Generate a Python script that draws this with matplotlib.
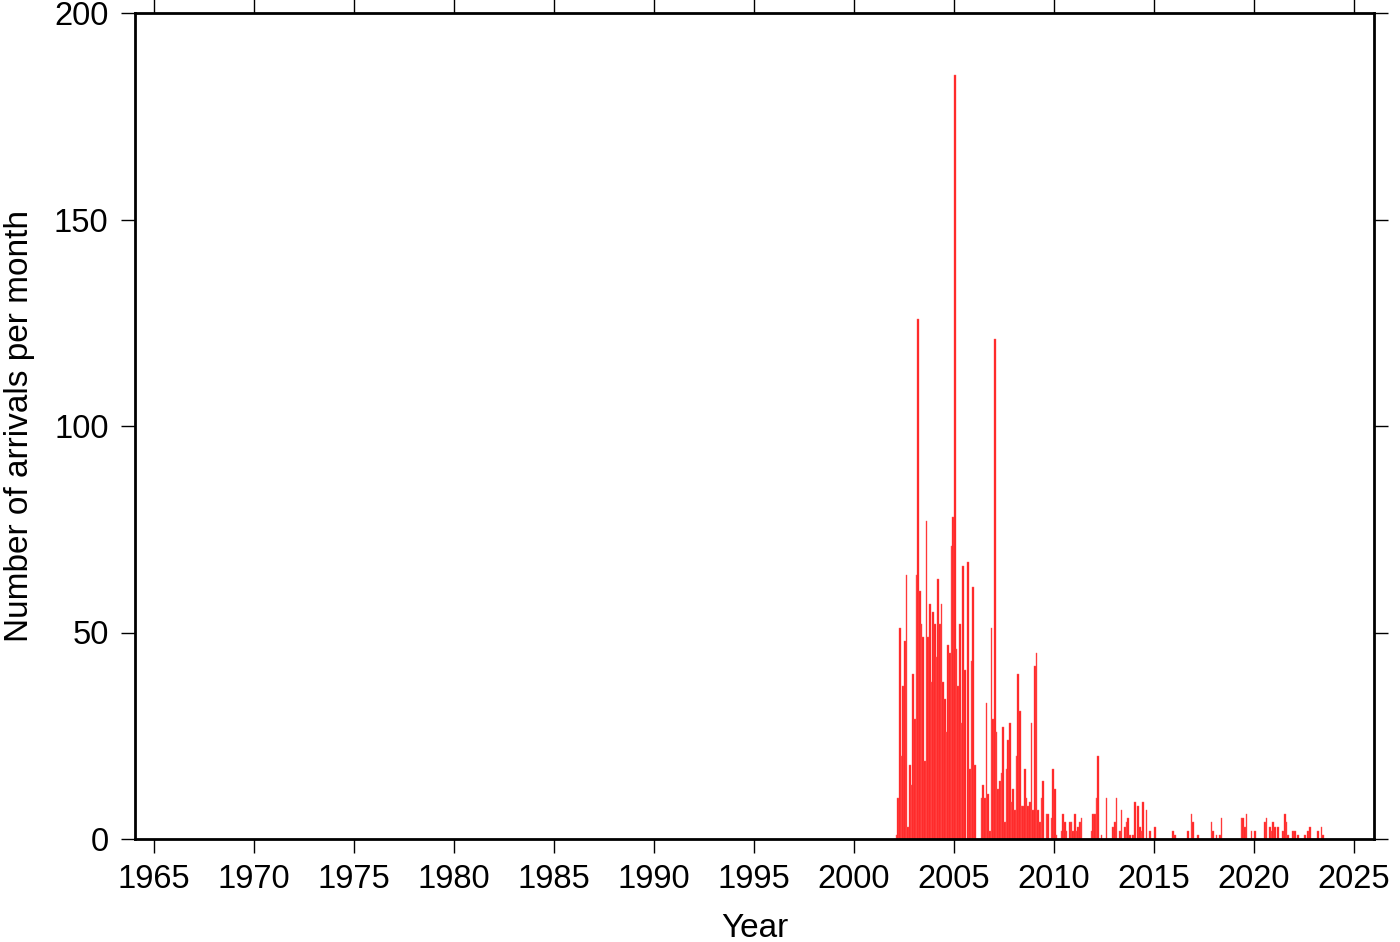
import matplotlib
matplotlib.use("Agg")
import matplotlib.pyplot as plt
import numpy as np

plt.rcParams['font.family'] = ['Liberation Sans', 'DejaVu Sans']

# monthly arrival counts, one row per year, starting January 2002
start_year = 2002
counts = [
    [0, 1, 10, 51, 20, 37, 48, 64, 3, 18, 13, 40],        # 2002
    [29, 64, 126, 60, 52, 49, 19, 77, 49, 57, 38, 55],    # 2003
    [52, 44, 63, 52, 57, 38, 34, 26, 47, 45, 71, 78],     # 2004
    [185, 46, 37, 52, 28, 66, 41, 0, 67, 17, 43, 61],     # 2005
    [18, 0, 0, 0, 10, 13, 10, 33, 11, 2, 51, 29],         # 2006
    [121, 26, 12, 14, 16, 27, 4, 17, 24, 28, 9, 12],      # 2007
    [7, 20, 40, 31, 8, 8, 17, 10, 8, 9, 28, 7],           # 2008
    [42, 45, 7, 4, 10, 14, 0, 6, 6, 0, 5, 17],            # 2009
    [12, 1, 0, 0, 2, 6, 4, 2, 0, 4, 4, 2],                # 2010
    [6, 2, 3, 4, 5, 0, 0, 0, 0, 0, 2, 6],                 # 2011
    [6, 10, 20, 0, 1, 0, 0, 10, 0, 0, 0, 3],              # 2012
    [4, 10, 0, 2, 7, 0, 3, 4, 5, 1, 0, 1],                # 2013
    [9, 0, 8, 3, 2, 9, 0, 7, 0, 2, 0, 0],                 # 2014
    [3, 0, 0, 0, 0, 0, 0, 0, 0, 0, 0, 2],                 # 2015
    [1, 0, 0, 0, 0, 0, 0, 0, 2, 0, 6, 4],                 # 2016
    [0, 0, 1, 0, 0, 0, 0, 0, 0, 0, 4, 2],                 # 2017
    [0, 1, 0, 1, 5, 0, 0, 0, 0, 0, 0, 0],                 # 2018
    [0, 0, 0, 0, 5, 5, 3, 6, 0, 0, 2, 0],                 # 2019
    [2, 0, 0, 0, 0, 0, 4, 5, 0, 3, 2, 4],                 # 2020
    [3, 0, 3, 0, 0, 2, 6, 4, 1, 0, 0, 2],                 # 2021
    [2, 0, 1, 0, 0, 0, 1, 0, 2, 3, 0, 0],                 # 2022
    [0, 0, 2, 0, 3, 1],                                   # 2023
]

vals = np.array([v for row in counts for v in row], dtype=float)
t = start_year + np.arange(len(vals)) / 12.0

fig = plt.figure(figsize=(14, 9.42), dpi=100)
ax = fig.add_axes([135/1400, 1 - 839/942, (1374-135)/1400, (839-13)/942])

ax.bar(t, vals, width=1/12.0 * 0.9, align='edge', color='#ff1e1e',
       edgecolor='#ff6060', linewidth=0.3)

ax.set_xlim(1964.05, 2026.0)
ax.set_ylim(0, 200)
ax.set_xticks(np.arange(1965, 2026, 5))
ax.set_yticks([0, 50, 100, 150, 200])

for s in ax.spines.values():
    s.set_linewidth(2)
ax.tick_params(direction='out', length=10, width=1, labelsize=23.5,
               top=True, right=True, pad=8)
ax.tick_params(axis='y', pad=9)

ax.set_xlabel("Year", fontsize=24, labelpad=13)
ax.set_ylabel("Number of arrivals per month", fontsize=24, labelpad=14)

fig.savefig("out.png", dpi=100)
